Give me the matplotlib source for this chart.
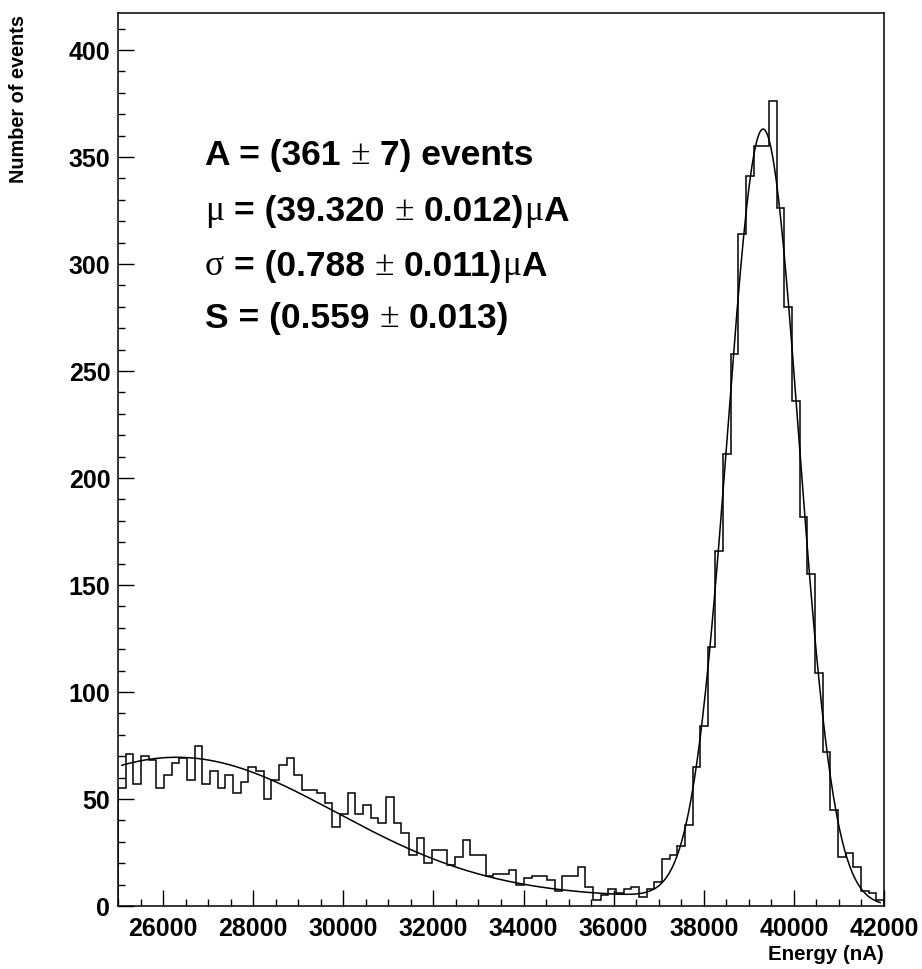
import math

import numpy as np
import matplotlib
matplotlib.use("Agg")
import matplotlib.pyplot as plt

# Histogram binning
X_MIN, X_MAX, N_BINS = 25000, 42000, 100

counts = [55, 71, 57, 70, 68, 55, 61, 67, 69, 59,
          75, 57, 63, 55, 61, 53, 58, 65, 63, 50,
          59, 66, 69, 61, 54, 54, 53, 48, 37, 43,
          53, 43, 47, 41, 39, 51, 39, 34, 24, 32,
          20, 26, 26, 19, 23, 31, 24, 24, 14, 15,
          15, 17, 10, 13, 14, 14, 12, 7, 14, 14,
          18, 9, 3, 5, 8, 6, 8, 9, 4, 8,
          11, 22, 24, 28, 38, 65, 84, 121, 166, 211,
          258, 314, 341, 355, 355, 376, 326, 280, 236, 182,
          155, 109, 72, 45, 23, 25, 18, 7, 6, 3]

# Fit parameters (peak + step under the peak + broad low-energy bump)
AMP, MU, SIGMA = 361, 39320, 788
STEP = 4.0
BKG_AMP, BKG_MEAN, BKG_WIDTH = 65.5, 26300, 3544

x_ticks = [26000, 28000, 30000, 32000, 34000, 36000, 38000, 40000, 42000]
y_ticks = [0, 50, 100, 150, 200, 250, 300, 350, 400]


def fit_function(x):
    peak = AMP * math.exp(-0.5 * ((x - MU) / SIGMA) ** 2)
    step = 0.5 * STEP * math.erfc((x - MU) / (math.sqrt(2) * SIGMA))
    bump = BKG_AMP * math.exp(-0.5 * ((x - BKG_MEAN) / BKG_WIDTH) ** 2)
    return peak + step + bump


BOLD = dict(family="Liberation Sans", weight="bold")
GREEK = dict(family="Liberation Serif", weight="normal")
TEXT_SIZE = 25.5
GAP = 0.278 * TEXT_SIZE  # width of a space, in points

# each line: list of (text, font, gap before)
fit_lines = [
    [("A = (361", BOLD, 0), ("±", GREEK, GAP), ("7) events", BOLD, GAP)],
    [("μ", GREEK, 0), ("= (39.320", BOLD, GAP), ("±", GREEK, GAP),
     ("0.012)", BOLD, GAP), ("μ", GREEK, 0), ("A", BOLD, 0)],
    [("σ", GREEK, 0), ("= (0.788", BOLD, GAP), ("±", GREEK, GAP),
     ("0.011)", BOLD, GAP), ("μ", GREEK, 0), ("A", BOLD, 0)],
    [("S = (0.559", BOLD, 0), ("±", GREEK, GAP), ("0.013)", BOLD, GAP)],
]
line_baselines = [0.8298, 0.7682, 0.7066, 0.6473]


def draw_line(ax, x, y, parts):
    prev = None
    for text, font, gap in parts:
        if prev is None:
            prev = ax.text(x, y, text, transform=ax.transAxes, ha="left",
                           va="baseline", fontsize=TEXT_SIZE, **font)
        else:
            prev = ax.annotate(text, xy=(1, 0), xycoords=prev, xytext=(gap, 0),
                               textcoords="offset points", ha="left", va="bottom",
                               fontsize=TEXT_SIZE, **font)


edges = np.linspace(X_MIN, X_MAX, N_BINS + 1)
centers = 0.5 * (edges[:-1] + edges[1:])
x_fit = np.linspace(centers[0], centers[-1], 800)
y_fit = [fit_function(x) for x in x_fit]

fig = plt.figure(figsize=(9.22, 9.69), dpi=100)
ax = fig.add_axes([118 / 922, 1 - 906 / 969, 766 / 922, 893 / 969])

ax.stairs(counts, edges, color="black", linewidth=1.1)
ax.plot(x_fit, y_fit, color="black", linewidth=1.1)

ax.set_xlim(X_MIN, X_MAX)
ax.set_ylim(0, 417.3)
ax.set_xticks(x_ticks)
ax.set_yticks(y_ticks)
ax.set_xticks(np.arange(X_MIN, X_MAX + 1, 500), minor=True)
ax.set_yticks(np.arange(0, 411, 10), minor=True)

tick_font = dict(family="Liberation Sans", weight="bold", size=18)
ax.set_xticklabels([str(t) for t in x_ticks], fontdict=tick_font)
ax.set_yticklabels([str(t) for t in y_ticks], fontdict=tick_font)
ax.tick_params(which="both", direction="in", width=1.0, top=False, right=False)
ax.tick_params(axis="x", which="major", length=11.5, pad=8)
ax.tick_params(axis="y", which="major", length=11.5, pad=5.5)
ax.tick_params(which="minor", length=5)
for spine in ax.spines.values():
    spine.set_linewidth(1.1)

for parts, yb in zip(fit_lines, line_baselines):
    draw_line(ax, 0.1136, yb, parts)

fig.text(884 / 922, 1 - 955 / 969, "Energy (nA)", ha="right", va="center",
         fontsize=14.8, family="Liberation Sans", weight="bold")
fig.text(18 / 922, 1 - 15 / 969, "Number of events", ha="center", va="top",
         rotation=90, fontsize=14.3, family="Liberation Sans", weight="bold")

fig.savefig("out.png", dpi=100)
